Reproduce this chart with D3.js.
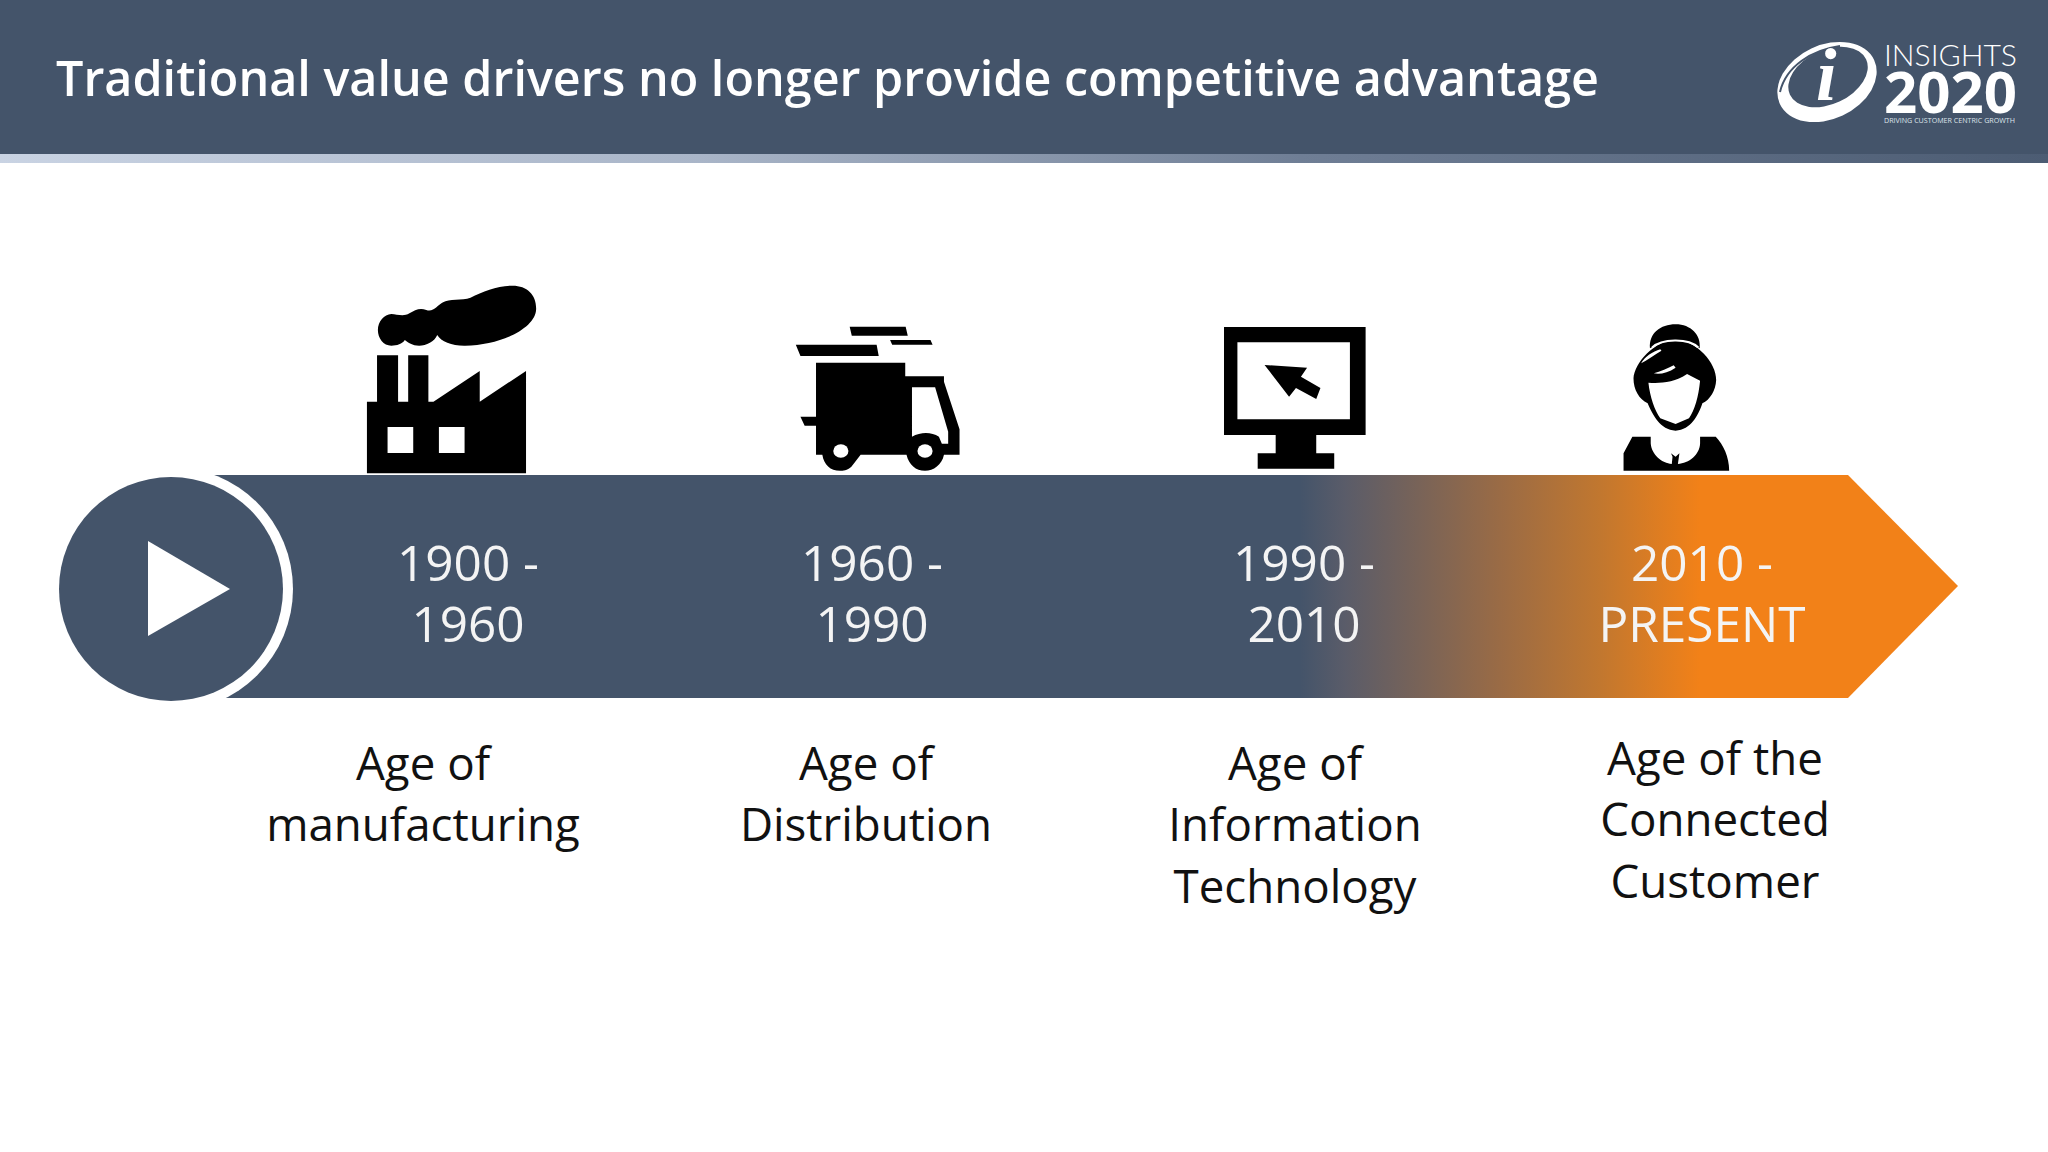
<!DOCTYPE html>
<html><head><meta charset="utf-8">
<script src="https://cdn.jsdelivr.net/npm/d3@7"></script>
<style>html,body{margin:0;padding:0;background:#fff}svg{display:block}</style>
</head><body><div id="c"></div>
<script>
const titleText = "Traditional value drivers no longer provide competitive advantage";
const periods = [["1900 -","1960"],["1960 -","1990"],["1990 -","2010"],["2010 -","PRESENT"]];
const ages = [["Age of","manufacturing"],["Age of","Distribution"],["Age of","Information","Technology"],["Age of the","Connected","Customer"]];
const logoWords = ["INSIGHTS","2020","DRIVING CUSTOMER CENTRIC GROWTH"];

const periodX = [468,872,1304,1702];
const ageX = [423,866,1295,1715];
const ageY = [780,780,780,775];

const W=2048,H=1152,NAVY="#44546a",ORANGE="#f28118";
const svg=d3.select("#c").append("svg").attr("width",W).attr("height",H).attr("viewBox",`0 0 ${W} ${H}`);
const defs=svg.append("defs");
const font="'Open Sans',sans-serif";

function lin(id,stops){
  const g=defs.append("linearGradient").attr("id",id).attr("gradientUnits","userSpaceOnUse")
    .attr("x1",0).attr("x2",W).attr("y1",0).attr("y2",0);
  g.selectAll("stop").data(stops).join("stop").attr("offset",d=>d[0]/W).attr("stop-color",d=>d[1]);
}
lin("bar",[[1300,NAVY],[1345,"#5a5c69"],[1500,"#9a6b45"],[1600,"#c1772f"],[1700,ORANGE]]);
lin("strip",[[0,"#c9d3e3"],[700,"#a9b5c8"],[1300,"#6f7e95"],[2048,"#4c5c73"]]);

svg.append("rect").attr("width",W).attr("height",154).attr("fill",NAVY);
svg.append("rect").attr("y",154).attr("width",W).attr("height",9).attr("fill","url(#strip)");
svg.append("text").text(titleText).attr("x",56).attr("y",96).attr("fill","#fff")
  .attr("textLength",1543).attr("lengthAdjust","spacingAndGlyphs")
  .attr("font-family",font).attr("font-weight",600).attr("font-size",49);

/* Logo */
const logo=svg.append("g");
const ell=(cx,cy,rx,ry)=>`M${cx-rx} ${cy} A${rx} ${ry} 0 1 0 ${cx+rx} ${cy} A${rx} ${ry} 0 1 0 ${cx-rx} ${cy} Z`;
logo.append("path").attr("fill-rule","evenodd").attr("fill","#fff")
  .attr("transform","rotate(-25 1827 82)")
  .attr("d",ell(1827,82,52,37)+" "+ell(1830,78,42,27));
logo.append("path").attr("d","M1780 92 C1786 66 1812 50 1840 46").attr("fill","none").attr("stroke",NAVY).attr("stroke-width",2);
logo.append("text").text("i").attr("x",1816).attr("y",100).attr("fill","#fff").attr("font-family","'Liberation Serif',serif")
  .attr("font-style","italic").attr("font-weight",700).attr("font-size",74);
logo.append("text").text(logoWords[0]).attr("x",1884).attr("y",66).attr("textLength",133).attr("lengthAdjust","spacingAndGlyphs")
  .attr("fill","#fff").attr("font-family","Lato,sans-serif").attr("font-weight",300).attr("font-size",29);
logo.append("text").text(logoWords[1]).attr("x",1884).attr("y",113).attr("textLength",133).attr("lengthAdjust","spacingAndGlyphs")
  .attr("fill","#fff").attr("font-family","'Open Sans',sans-serif").attr("font-weight",700).attr("font-size",58);
logo.append("text").text(logoWords[2]).attr("x",1884).attr("y",123).attr("textLength",131).attr("lengthAdjust","spacingAndGlyphs")
  .attr("fill","#dfe4ea").attr("font-family","'Open Sans',sans-serif").attr("font-size",7);

/* Arrow bar */
svg.append("path").attr("d","M200 475 L1848 475 L1958 586 L1848 698 L200 698 Z").attr("fill","url(#bar)");
svg.append("circle").attr("cx",171).attr("cy",589).attr("r",122).attr("fill","#fff");
svg.append("rect").attr("x",0).attr("y",470).attr("width",175).attr("height",235).attr("fill","#fff");
svg.append("circle").attr("cx",171).attr("cy",589).attr("r",112).attr("fill",NAVY);
svg.append("path").attr("d","M148 541 L230 589 L148 636 Z").attr("fill","#fff");

/* Icons drawn in zoom units */
const g1=svg.append("g").attr("transform","translate(340,270) scale(0.42088,0.33333)");
g1.append("path").attr("fill-rule","evenodd").attr("d","M64 610 L64 395 L88 395 L88 256 L138 256 L138 395 L162 395 L162 256 L210 256 L210 395 L222 395 L332 303 L332 395 L442 303 L442 610 Z M113 471 L113 549 L174 549 L174 471 Z M235 471 L235 549 L296 549 L296 471 Z");
g1.append("path").attr("d","M90 180 C90 155 105 133 122 132 C135 132 150 142 165 130 C178 120 190 112 205 120 C222 128 232 105 245 97 C258 85 290 92 310 83 C340 65 375 47 410 47 C445 47 467 75 466 118 C465 175 380 228 295 227 C265 227 240 215 231 195 C225 215 205 227 188 227 C172 227 162 218 154 210 C148 222 135 227 122 227 C103 227 90 205 90 180 Z");
g1.append("path").attr("fill-rule","evenodd").attr("d","M1131 278 L1343 278 L1343 319 L1435 319 L1435 335 L1472 478 L1472 554 L1435 554 C1430 585 1410 602 1390 602 C1368 602 1352 585 1346 554 L1237 554 L1215 590 C1205 602 1195 602 1188 602 C1165 602 1150 585 1146 554 L1131 554 L1131 467 L1104 467 L1094 440 L1131 440 Z M1359 352 L1359 500 C1380 485 1405 485 1423 500 L1430 521 L1445 521 L1445 485 L1414 352 Z");
g1.selectAll("ellipse.w").data([1190,1390]).join("ellipse").attr("cx",d=>d).attr("cy",543).attr("rx",18).attr("ry",20).attr("fill","#fff");
g1.append("path").attr("d","M1211 170 L1344 170 L1349 197 L1216 197 Z M1307 210 L1403 210 L1408 224 L1312 224 Z M1083 224 L1275 224 L1280 258 L1094 258 Z");

const g2=svg.append("g").attr("transform","translate(1180,300) scale(0.38270,0.33333)");
g2.append("path").attr("fill-rule","evenodd").attr("d","M115 81 L485 81 L485 405 L356 405 L356 460 L403 460 L403 506 L203 506 L203 460 L250 460 L250 405 L115 405 Z M150 127 L150 358 L444 358 L444 127 Z");
g2.append("path").attr("d","M221 195 L332 203 L316 230 L367 264 L356 297 L303 264 L285 290 Z");
g2.append("path").attr("d","M1228 145 C1225 100 1255 73 1295 73 C1335 73 1362 105 1358 145 L1340 130 L1250 130 Z");
g2.append("path").attr("d","M1295 120 C1350 120 1402 190 1401 240 C1400 270 1385 300 1365 310 C1355 345 1335 390 1295 392 C1255 390 1235 345 1222 310 C1200 298 1185 270 1185 235 C1187 190 1240 120 1295 120 Z");
g2.append("path").attr("d","M1224 248 C1250 250 1290 250 1325 222 L1359 242 C1355 290 1345 330 1330 355 L1295 372 L1255 355 C1240 330 1228 290 1224 248 Z").attr("fill","#fff");
g2.append("path").attr("d","M1234 142 C1258 116 1328 113 1354 142").attr("fill","none").attr("stroke","#fff").attr("stroke-width",6);
g2.append("path").attr("d","M1205 190 C1215 170 1235 155 1255 148 L1258 152 C1240 165 1220 180 1205 190 Z M1238 220 C1255 215 1275 205 1290 196 L1295 203 C1275 218 1255 224 1238 220 Z").attr("fill","#fff");
g2.append("path").attr("d","M1182 410 L1230 410 L1230 430 C1232 465 1260 490 1285 492 L1287 470 L1283 460 L1295 470 L1305 460 L1301 492 C1330 490 1358 465 1359 430 L1359 410 L1400 410 C1420 435 1435 470 1435 512 L1159 512 L1159 460 Z");

/* Labels */
svg.append("g").selectAll("text").data(periods).join("text")
  .attr("text-anchor","middle").attr("fill","#f4f4f4").attr("font-family",font).attr("font-weight",400).attr("font-size",49.5)
  .each(function(lines,i){
    d3.select(this).selectAll("tspan").data(lines).join("tspan").text(d=>d)
      .attr("x",periodX[i]).attr("y",(d,j)=>581+j*61.4);
  });
svg.append("g").selectAll("text").data(ages).join("text")
  .attr("text-anchor","middle").attr("fill","#111").attr("font-family",font).attr("font-size",45.7)
  .each(function(lines,i){
    d3.select(this).selectAll("tspan").data(lines).join("tspan").text(d=>d)
      .attr("x",ageX[i]).attr("y",(d,j)=>ageY[i]+j*61.4);
  });
</script></body></html>
